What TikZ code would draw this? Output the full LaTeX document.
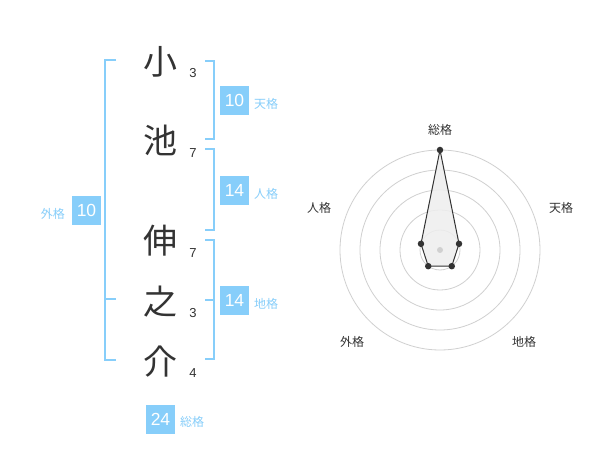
\documentclass[tikz,border=0pt]{standalone}
\usepackage{fontspec}
\usetikzlibrary{calc}
\setmainfont{Liberation Sans}
\newfontfamily\cjk{Noto Sans CJK JP}
\definecolor{lblue}{HTML}{87CEFA}
\definecolor{dgray}{HTML}{333333}
\definecolor{cgray}{HTML}{D0D0D0}
\definecolor{pfill}{HTML}{EEEEEE}
\begin{document}
\begin{tikzpicture}[x=1pt,y=-1pt,
  kanji/.style={font=\cjk\fontsize{34}{34}\selectfont, text=dgray, inner sep=0pt},
  stroke/.style={font=\fontsize{13}{13}\selectfont, text=dgray, inner sep=0pt},
  valbox/.style={fill=lblue, text=white, minimum size=29pt, inner sep=0pt, font=\fontsize{17.5}{17.5}\selectfont},
  vallbl/.style={font=\cjk\fontsize{12}{12}\selectfont, text=lblue, inner sep=0pt},
  bracket/.style={draw=lblue, line width=2pt},
  ring/.style={draw=cgray, line width=0.8pt},
  axlbl/.style={font=\cjk\fontsize{12}{12}\selectfont, text=dgray, inner sep=0pt},
  dot/.style={circle, fill=dgray, minimum size=6.5pt, inner sep=0pt}
]
\useasboundingbox[fill=white] (0,0) rectangle (600,470);

% name characters
\node[kanji] (k1) at (160,62) {小};
\node[kanji] (k2) at (160,140) {池};
\node[kanji] (k3) at (160,241) {伸};
\node[kanji] (k4) at (160,302) {之};
\node[kanji] (k5) at (160,362) {介};
% stroke counts
\node[stroke] (s1) at (193,73) {3};
\node[stroke] (s2) at (193,153) {7};
\node[stroke] (s3) at (193,253) {7};
\node[stroke] (s4) at (193,313) {3};
\node[stroke] (s5) at (193,373) {4};

% brackets
\draw[bracket] (116,60) -- (105,60) -- (105,360) -- (116,360);
\draw[bracket] (105,299) -- (116,299);
\draw[bracket] (205,61) -- (214,61) -- (214,139) -- (205,139);
\draw[bracket] (205,149) -- (214,149) -- (214,230) -- (205,230);
\draw[bracket] (205,240) -- (214,240) -- (214,359) -- (205,359);
\draw[bracket] (205,300) -- (214,300);

% value boxes
\node[valbox] (ten) at (234.5,100.5) {10};
\node[vallbl, anchor=west] (tenl) at (254,104) {天格};
\node[valbox] (jin) at (234.5,190.5) {14};
\node[vallbl, anchor=west] (jinl) at (254,194) {人格};
\node[valbox] (chi) at (234.5,300.5) {14};
\node[vallbl, anchor=west] (chil) at (254,304) {地格};
\node[valbox] (gai) at (86.5,210.5) {10};
\node[vallbl, anchor=east] (gail) at (65,214) {外格};
\node[valbox] (sou) at (160.5,419.5) {24};
\node[vallbl, anchor=west] (soul) at (180,422) {総格};

% radar chart
\coordinate (c) at (440,250);
\foreach \r in {20,40,60,80,100} \draw[ring] (c) circle (\r);
\coordinate (p1) at ($(c)+(-90:100)$);
\coordinate (p2) at ($(c)+(-18:20)$);
\coordinate (p3) at ($(c)+(54:20)$);
\coordinate (p4) at ($(c)+(126:20)$);
\coordinate (p5) at ($(c)+(198:20)$);
\fill[pfill, opacity=0.85] (p1) -- (p2) -- (p3) -- (p4) -- (p5) -- cycle;
\draw[dgray, line width=1pt] (p1) -- (p2) -- (p3) -- (p4) -- (p5) -- cycle;
\node[circle, fill=cgray, minimum size=6pt, inner sep=0pt] (cdot) at (c) {};
\foreach \p in {p1,p2,p3,p4,p5} \node[dot] at (\p) {};

\node[axlbl] (a1) at (440,130) {総格};
\node[axlbl] (a2) at (561,208) {天格};
\node[axlbl] (a3) at (524,342) {地格};
\node[axlbl] (a4) at (352,342) {外格};
\node[axlbl] (a5) at (319,208) {人格};
\end{tikzpicture}
\end{document}
